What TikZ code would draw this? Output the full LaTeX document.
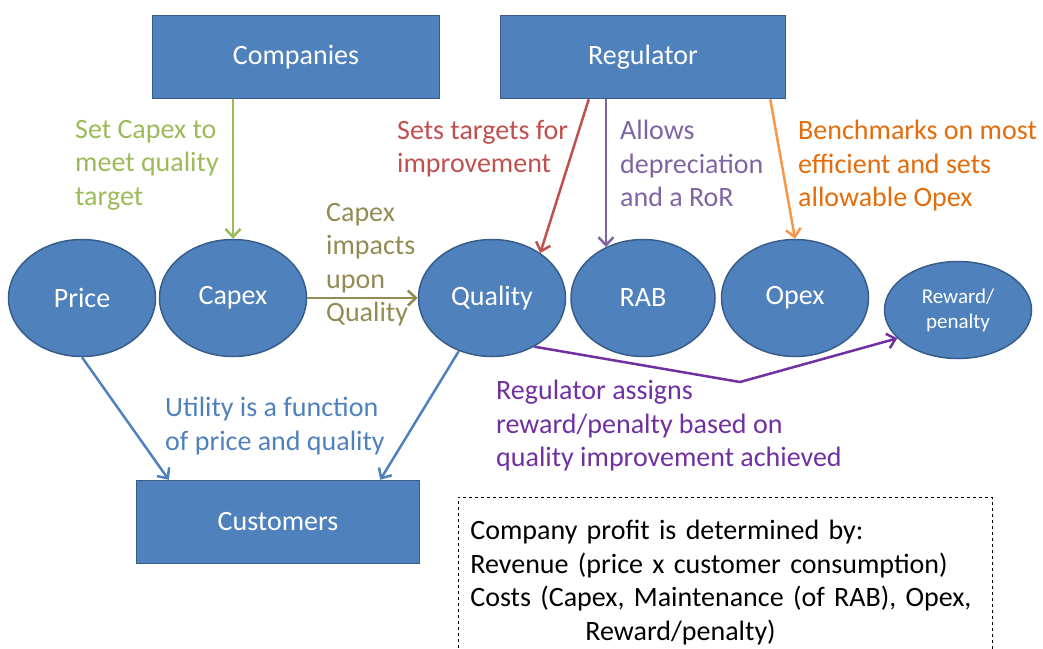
\documentclass[tikz,border=0pt]{standalone}
\usepackage{amssymb,amsmath}
\usepackage{fontspec}
\setmainfont{Carlito}
\usetikzlibrary{shapes, arrows.meta}

\definecolor{nodeblue}{RGB}{79,129,189}
\definecolor{nodeedge}{RGB}{56,93,138}
\definecolor{capexgreen}{RGB}{155,187,89}
\definecolor{targetred}{RGB}{192,80,77}
\definecolor{rabpurple}{RGB}{128,100,162}
\definecolor{opexorange}{RGB}{247,150,70}
\definecolor{opextext}{RGB}{228,108,10}
\definecolor{impactolive}{RGB}{148,138,84}
\definecolor{rewardpurple}{RGB}{112,48,160}

\begin{document}
\begin{tikzpicture}[x=1pt, y=-1pt,
	font=\fontsize{28}{33.5}\selectfont,
	actor/.style={draw=nodeedge, line width=1.5pt, fill=nodeblue, text=white,
		minimum width=287pt, minimum height=83pt},
	factor/.style={ellipse, draw=nodeedge, line width=1.5pt, fill=nodeblue, text=white,
		minimum width=147pt, minimum height=117pt, inner sep=0pt},
	note/.style={anchor=north west, align=left, inner sep=0pt},
	link/.style={-{Straight Barb[length=8pt, width=15pt]}, line width=2.5pt}]
	\useasboundingbox (0,0) rectangle (1043,648);

	\node[actor] (comp) at (296,57) {Companies};
	\node[actor, minimum width=285pt] (reg) at (643,57) {Regulator};
	\node[actor, minimum width=283pt] (cust) at (278,522) {Customers};

	\node[factor] (price) at (82,298) {Price};
	\node[factor] (capex) at (233,298) {Capex};
	\node[factor] (quality) at (492,298) {Quality};
	\node[factor, minimum width=144pt] (rab) at (643,298) {RAB};
	\node[factor] (opex) at (795,298) {Opex};
	\node[factor, minimum width=147pt, minimum height=97pt, align=center,
		font=\fontsize{21}{25}\selectfont] (reward) at (958,310) {Reward/\\penalty};

	\draw[link, capexgreen] (capex.north |- comp.south) -- (capex.north);
	\draw[link, targetred] ([xshift=89pt]reg.south west) -- (quality.43);
	\draw[link, rabpurple] (rab.126 |- reg.south) -- (rab.126);
	\draw[link, opexorange] ([xshift=-16pt]reg.south east) -- (opex.north);
	\draw[link, impactolive] (capex.east) -- (quality.west);
	\coordinate (turn) at (740,382);
	\draw[link, rewardpurple] (quality.-49) -- (turn) -- (reward.205);
	\draw[link, nodeblue] (price.south) -- ([xshift=33pt]cust.north west);
	\draw[link, nodeblue] (quality.-122) -- ([xshift=-40pt]cust.north east);

	\node[note, text=capexgreen] (capexnote) at (75,120) {Set Capex to\\meet quality\\target};
	\node[note, text=targetred] (targetnote) at (397,120) {Sets targets for\\improvement};
	\node[note, text=rabpurple] (rabnote) at (620,120) {Allows\\depreciation\\and a RoR};
	\node[note, text=opextext] (opexnote) at (798,120) {Benchmarks on most\\efficient and sets\\allowable Opex};
	\node[note, text=impactolive] (impactnote) at (326,203) {Capex\\impacts\\upon\\Quality};
	\node[note, text=rewardpurple] (rewardnote) at (496,380) {Regulator assigns\\reward/penalty based on\\quality improvement achieved};
	\node[note, text=nodeblue] (utilnote) at (165,397) {Utility is a function\\of price and quality};

	\node[draw, dashed, line width=0.8pt, anchor=north west, align=left, text width=510pt,
		inner xsep=12pt, inner ysep=12pt, minimum height=170pt] (profit) at (458,497)
		{Company profit is determined by:\\Revenue (price x customer consumption)\\
		Costs (Capex, Maintenance (of RAB), Opex,\\\hspace*{115pt}Reward/penalty)};
\end{tikzpicture}
\end{document}
